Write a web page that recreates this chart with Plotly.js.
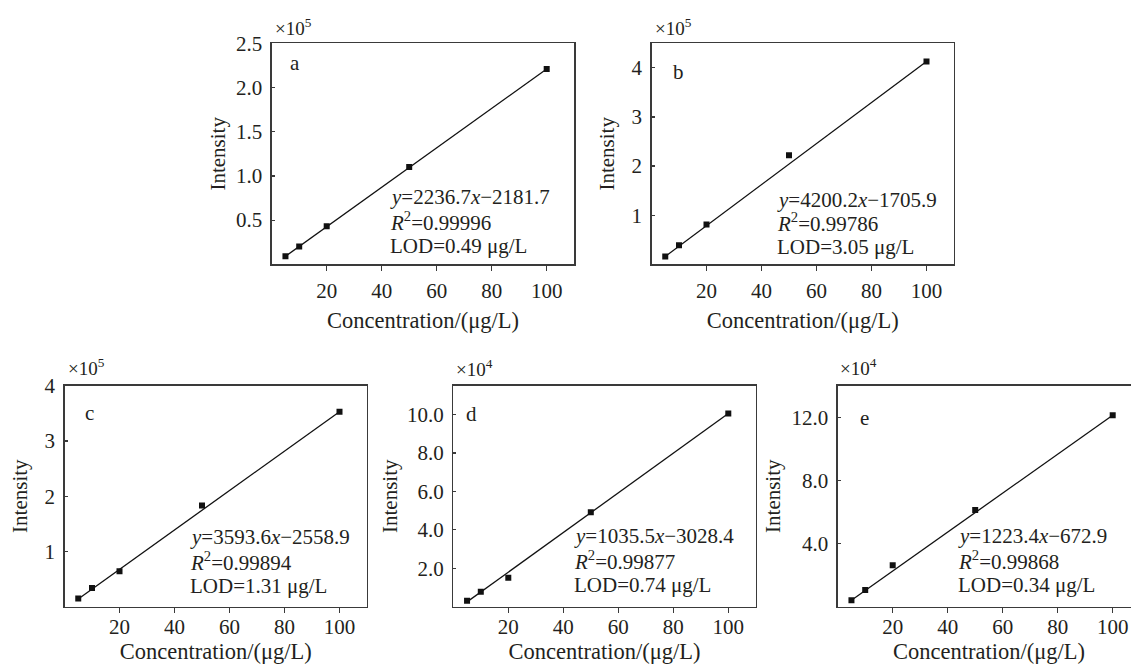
<!DOCTYPE html>
<html>
<head>
<meta charset="utf-8">
<script src="https://cdn.plot.ly/plotly-3.0.1.min.js"></script>
<style>
html, body { margin: 0; padding: 0; overflow: hidden; background: #fff; }
#chart { width: 1141px; height: 664px; }
</style>
</head>
<body>
<div id="chart"></div>
<script>
// ---- data (values as shown on each panel's scaled axis) ----
const concentration = [5, 10, 20, 50, 100];           // µg/L
const intensityA = [0.09, 0.20, 0.43, 1.10, 2.21];   // ×10^5
const intensityB = [0.16, 0.39, 0.81, 2.22, 4.13];   // ×10^5
const intensityC = [0.15, 0.34, 0.64, 1.83, 3.53];   // ×10^5
const intensityD = [0.31, 0.78, 1.51, 4.92, 10.05];  // ×10^4
const intensityE = [0.41, 1.06, 2.63, 6.12, 12.13];  // ×10^4
const fitX = [5, 100];
const fitA = [0.09, 2.21];
const fitB = [0.16, 4.13];
const fitC = [0.14, 3.53];
const fitD = [0.25, 10.05];
const fitE = [0.41, 12.13];
const panelLetters = ['a', 'b', 'c', 'd', 'e'];
const exponentLabels = ['×10<sup>5</sup>', '×10<sup>5</sup>', '×10<sup>5</sup>', '×10<sup>4</sup>', '×10<sup>4</sup>'];
const equations = ['<i>y</i>=2236.7<i>x</i>−2181.7', '<i>y</i>=4200.2<i>x</i>−1705.9', '<i>y</i>=3593.6<i>x</i>−2558.9', '<i>y</i>=1035.5<i>x</i>−3028.4', '<i>y</i>=1223.4<i>x</i>−672.9'];
const r2Labels = ['<i>R</i><sup>2</sup>=0.99996', '<i>R</i><sup>2</sup>=0.99786', '<i>R</i><sup>2</sup>=0.99894', '<i>R</i><sup>2</sup>=0.99877', '<i>R</i><sup>2</sup>=0.99868'];
const lodLabels = ['LOD=0.49 μg/L', 'LOD=3.05 μg/L', 'LOD=1.31 μg/L', 'LOD=0.74 μg/L', 'LOD=0.34 μg/L'];
const xTickVals = [20, 40, 60, 80, 100];
const yTickVals = [[0.5, 1.0, 1.5, 2.0, 2.5], [1, 2, 3, 4], [1, 2, 3, 4], [2, 4, 6, 8, 10], [4, 8, 12]];
const yTickFormats = ['.1f', 'd', 'd', '.1f', '.1f'];
const yRanges = [[0, 2.5], [0, 4.5], [0, 4], [0, 11.5], [0, 14]];
const xTitle = 'Concentration/(μg/L)';
const yTitle = 'Intensity';

const series = [intensityA, intensityB, intensityC, intensityD, intensityE];
const fits = [fitA, fitB, fitC, fitD, fitE];

// ---- layout geometry (pixels) ----
const W = 1141, H = 664;
const FONT = 'Liberation Serif';
const TXT = '#231f20';
const LINE = '#3a3a3a';
const boxes = [
  {l: 271.7, r: 574.2, t: 43.3, b: 264.3},
  {l: 651.5, r: 954.0, t: 43.3, b: 264.3},
  {l: 64.5,  r: 367.0, t: 385.7, b: 606.7},
  {l: 453.3, r: 755.8, t: 385.7, b: 606.7},
  {l: 837.7, r: 1140.2, t: 385.7, b: 606.7}
];
// annotation anchor positions (pixels)
const letterPos = [[295, 63], [678, 72], [89, 413], [472, 414], [864, 418]];
const expPos = [[273, 27], [653, 27], [66, 367], [454, 368], [838, 367]];
const textLeft = [388, 775, 188, 572, 956];
const textRows = [[197, 221.5, 246], [200, 223, 247], [537, 561, 586], [536, 560, 584.5], [536, 560, 584.5]];
const xTickStandoff = [2, 2, -4, -4, -4];
const xTitleStandoff = [10, 10, 4, 4, 4];
const yTitleStandoff = [4, 11, 11, 3, 5];

const px = x => x / W;
const py = y => 1 - y / H;

const traces = [];
const layout = {
  width: W, height: H,
  margin: {l: 0, r: 0, t: 0, b: 0},
  paper_bgcolor: '#fff', plot_bgcolor: '#fff',
  showlegend: false,
  font: {family: FONT, size: 21, color: TXT},
  annotations: []
};

series.forEach((vals, i) => {
  const sfx = i === 0 ? '' : String(i + 1);
  traces.push({
    x: fitX, y: fits[i], xaxis: 'x' + sfx, yaxis: 'y' + sfx,
    type: 'scatter', mode: 'lines',
    line: {color: '#111', width: 1.3}, hoverinfo: 'skip'
  });
  traces.push({
    x: concentration, y: vals, xaxis: 'x' + sfx, yaxis: 'y' + sfx,
    type: 'scatter', mode: 'markers',
    marker: {symbol: 'square', size: 6, color: '#111'}
  });
  const bx = boxes[i];
  layout['xaxis' + sfx] = {
    domain: [px(bx.l), px(bx.r)], anchor: 'y' + sfx,
    range: [0, 110], tickvals: xTickVals,
    showline: true, mirror: true, linecolor: LINE, linewidth: 1.3,
    ticks: 'outside', ticklen: 5, tickwidth: 1.2, tickcolor: LINE,
    ticklabelstandoff: xTickStandoff[i],
    showgrid: false, zeroline: false,
    tickfont: {family: FONT, size: 21, color: TXT},
    title: {text: xTitle, font: {family: FONT, size: 22.5, color: TXT}, standoff: xTitleStandoff[i]}
  };
  layout['yaxis' + sfx] = {
    domain: [py(bx.b), py(bx.t)], anchor: 'x' + sfx,
    range: yRanges[i], tickvals: yTickVals[i], tickformat: yTickFormats[i],
    showline: true, mirror: true, linecolor: LINE, linewidth: 1.3,
    ticks: 'inside', ticklen: 3, tickwidth: 1.2, tickcolor: LINE,
    ticklabelstandoff: 4,
    showgrid: false, zeroline: false,
    tickfont: {family: FONT, size: 21, color: TXT},
    title: {text: yTitle, font: {family: FONT, size: 21, color: TXT}, standoff: yTitleStandoff[i]}
  };
  const ann = (text, x, y, xanchor, size) => layout.annotations.push({
    text, x: px(x), y: py(y), xref: 'paper', yref: 'paper',
    xanchor, yanchor: 'middle', showarrow: false,
    font: {family: FONT, size, color: TXT}
  });
  ann(panelLetters[i], letterPos[i][0], letterPos[i][1], 'center', 21);
  ann(exponentLabels[i], expPos[i][0], expPos[i][1], 'left', 19);
  ann(equations[i], textLeft[i], textRows[i][0], 'left', 21);
  ann(r2Labels[i], textLeft[i], textRows[i][1], 'left', 21);
  ann(lodLabels[i], textLeft[i], textRows[i][2], 'left', 21);
});

Plotly.newPlot('chart', traces, layout, {staticPlot: true, displayModeBar: false});
</script>
</body>
</html>
